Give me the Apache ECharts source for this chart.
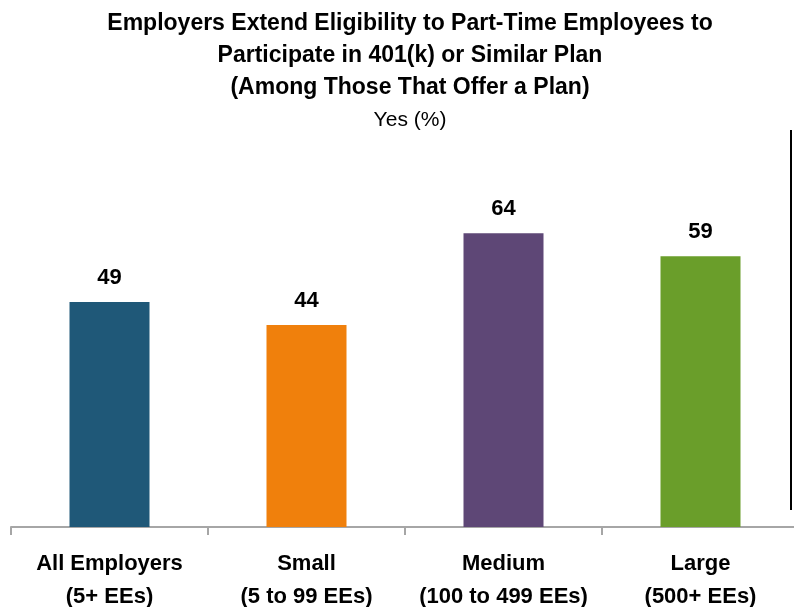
<!DOCTYPE html>
<html>
<head>
    <meta charset="UTF-8">
    <title>Part-Time Eligibility</title>
    <script type="text/javascript" src="https://cdn.jsdelivr.net/npm/echarts@6/dist/echarts.min.js"></script>
</head>
<body style="margin: 0;padding: 0;">
    <div id="container" style="width:794px; height:607px;"></div>
    <script>
        // 数据
        var categories = ["All Employers\n(5+ EEs)", "Small\n(5 to 99 EEs)", "Medium\n(100 to 499 EEs)", "Large\n(500+ EEs)"];
        var values = [49, 44, 64, 59];
        var colors = ["#1F5878", "#F0800C", "#5E4776", "#6A9E2A"];

        var font = "'Liberation Sans', sans-serif";
        var chart = echarts.init(document.getElementById('container'), null, { renderer: 'canvas' });

        var option = {
            backgroundColor: "#fff",
            animation: false,
            title: {
                text: "Employers Extend Eligibility to Part-Time Employees to\nParticipate in 401(k) or Similar Plan\n(Among Those That Offer a Plan)",
                subtext: "Yes (%)",
                left: 405,
                top: 3,
                textAlign: "center",
                itemGap: 0,
                textStyle: { fontFamily: font, fontSize: 23, fontWeight: "bold", color: "#000", lineHeight: 32 },
                subtextStyle: { fontFamily: font, fontSize: 21, color: "#000", lineHeight: 32 }
            },
            grid: { left: 11, right: -5, top: 68, bottom: 80, outerBoundsMode: "none", containLabel: false },
            xAxis: {
                type: "category",
                data: categories,
                axisLine: { lineStyle: { color: "#A6A6A6", width: 2 } },
                axisTick: { show: true, length: 8, lineStyle: { color: "#A6A6A6", width: 2 } },
                axisLabel: {
                    interval: 0,
                    margin: 20,
                    fontFamily: font, fontSize: 22, fontWeight: "bold", color: "#000", lineHeight: 33
                }
            },
            yAxis: {
                type: "value", min: 0, max: 100, show: false,
                splitLine: { show: false }
            },
            series: [{
                type: "bar",
                barWidth: 80,
                data: values.map((v, i) => ({ value: v, itemStyle: { color: colors[i] } })),
                label: {
                    show: true, position: "top", distance: 13,
                    fontFamily: font, fontSize: 22, fontWeight: "bold", color: "#000"
                }
            }],
            graphic: [{
                type: "line",
                shape: { x1: 791, y1: 130, x2: 791, y2: 510 },
                style: { stroke: "#000", lineWidth: 2 }
            }]
        };
        chart.setOption(option);
    </script>
</body>
</html>
